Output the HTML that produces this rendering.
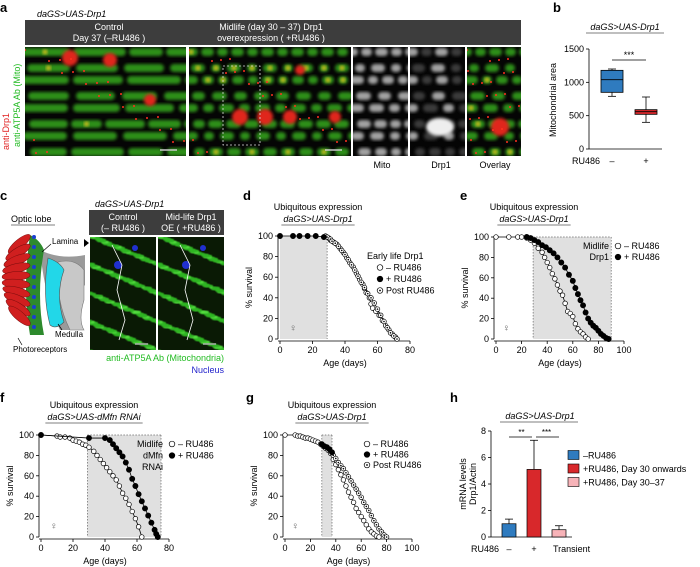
<!DOCTYPE html>
<html><head><meta charset="utf-8">
<style>
html,body{margin:0;padding:0;background:#fff;}
svg{display:block;font-family:"Liberation Sans",sans-serif;}
text{font-family:"Liberation Sans",sans-serif;}
</style></head>
<body>
<svg id="fig" width="700" height="567" viewBox="0 0 700 567" xmlns="http://www.w3.org/2000/svg">
<defs>
<filter id="bl" x="-20%" y="-20%" width="140%" height="140%"><feGaussianBlur stdDeviation="1.6"/></filter>
<filter id="bl2"><feGaussianBlur stdDeviation="0.8"/></filter>
<clipPath id="ca1"><rect x="25" y="47" width="161" height="109"/></clipPath>
<clipPath id="ca2"><rect x="189" y="47" width="162" height="109"/></clipPath>
<clipPath id="ca3"><rect x="353" y="47" width="55" height="109"/></clipPath>
<clipPath id="ca4"><rect x="410" y="47" width="55" height="109"/></clipPath>
<clipPath id="ca5"><rect x="467" y="47" width="54" height="109"/></clipPath>
<clipPath id="cc1"><rect x="90" y="237" width="66" height="113"/></clipPath>
<clipPath id="cc2"><rect x="158" y="237" width="66" height="113"/></clipPath>
</defs>

<!-- Panel a -->
<g>
<text x="0" y="12" font-size="13" font-weight="bold">a</text>
<text x="37" y="17" font-size="9" font-style="italic">daGS&gt;UAS-Drp1</text>
<rect x="25" y="20" width="496" height="25" fill="#3d3d3d"/>
<text x="109" y="30" font-size="9" fill="#fff" text-anchor="middle">Control</text>
<text x="109" y="41" font-size="9" fill="#fff" text-anchor="middle">Day 37 (–RU486 )</text>
<text x="271" y="30" font-size="9" fill="#fff" text-anchor="middle">Midlife (day 30 – 37) Drp1</text>
<text x="271" y="41" font-size="9" fill="#fff" text-anchor="middle">overexpression ( +RU486 )</text>
<g id="micro"></g>
<text x="382" y="168" font-size="9" text-anchor="middle">Mito</text>
<text x="441" y="168" font-size="9" text-anchor="middle">Drp1</text>
<text x="495" y="168" font-size="9" text-anchor="middle">Overlay</text>
<text transform="translate(9,150) rotate(-90)" font-size="9" fill="#e02020">anti-Drp1</text>
<text transform="translate(20,147) rotate(-90)" font-size="9" fill="#22bb22">anti-ATP5A Ab (Mito)</text>
</g>

<!-- Panel b -->
<g id="pb">
<text x="553" y="12" font-size="13" font-weight="bold">b</text>
<text x="625" y="30" font-size="9" font-style="italic" text-anchor="middle">daGS&gt;UAS-Drp1</text>
<line x1="586" y1="33" x2="664" y2="33" stroke="#999" stroke-width="1.2"/>
<text transform="translate(556,100) rotate(-90)" font-size="9" text-anchor="middle">Mitochondrial area</text>
</g>

<!-- Panel c -->
<g>
<text x="0" y="200" font-size="13" font-weight="bold">c</text>
<text x="95" y="207" font-size="9" font-style="italic">daGS&gt;UAS-Drp1</text>
<text x="11" y="222" font-size="9">Optic lobe</text>
<line x1="11" y1="225" x2="55" y2="225" stroke="#999" stroke-width="1.2"/>
<g>
<path d="M40,250 Q60,260 85,255 L85,285 Q70,300 80,330 L60,330 Q45,300 40,250Z" fill="#9a9a9a"/>
<path d="M58,262 Q75,258 84,270 L84,300 Q78,320 84,330 L70,330 Q55,300 58,262Z" fill="#c8c8c8" stroke="#777" stroke-width="0.6"/>
<path d="M48,258 Q60,262 64,270 Q55,295 64,322 Q56,330 50,325 Q42,295 48,258Z" fill="#22d7e8" stroke="#555" stroke-width="0.6"/>
<path d="M30,235 Q40,240 44,250 Q36,295 44,335 L30,335 Q22,290 30,235Z" fill="#2d8a2d"/>
</g>
<g id="petals"></g>
<text x="52" y="244" font-size="8">Lamina</text>
<line x1="51" y1="244" x2="42" y2="252" stroke="#000" stroke-width="0.7"/>
<path d="M84,239 L89,243 L84,247Z" fill="#000"/>
<text x="55" y="337" font-size="8">Medulla</text>
<line x1="62" y1="330" x2="58" y2="324" stroke="#000" stroke-width="0.7"/>
<text x="13" y="352" font-size="8">Photoreceptors</text>
<line x1="22" y1="345" x2="18" y2="338" stroke="#000" stroke-width="0.7"/>
<rect x="89" y="210" width="135" height="25" fill="#3d3d3d"/>
<text x="123" y="220" font-size="9" fill="#fff" text-anchor="middle">Control</text>
<text x="123" y="231" font-size="9" fill="#fff" text-anchor="middle">(– RU486 )</text>
<text x="191" y="220" font-size="9" fill="#fff" text-anchor="middle">Mid-life Drp1</text>
<text x="191" y="231" font-size="9" fill="#fff" text-anchor="middle">OE ( +RU486 )</text>
<g id="microc"></g>
<text x="224" y="361" font-size="9" fill="#22bb22" text-anchor="end">anti-ATP5A Ab (Mitochondria)</text>
<text x="224" y="373" font-size="9" fill="#2222cc" text-anchor="end">Nucleus</text>
</g>

<g id="pd"></g>
<g id="pe"></g>
<g id="pf"></g>
<g id="pg"></g>
<g id="ph"></g>
</svg>

<script>
// ===== Data =====
// panel b box plot (min, q1, median, q3, max)
const boxGroups = ['–', '+'];
const boxMin = [790, 400];
const boxQ1 = [850, 520];
const boxMed = [1040, 560];
const boxQ3 = [1180, 590];
const boxMax = [1200, 780];
const boxTicks = [0, 500, 1000, 1500];

// panel d
const dCtrlAge = [28,30,31,33,35,37,39,41,43,45,47,49,51,52,53,55,56,57,59,61,63,65,67,69,71,72];
const dCtrlSurv = [100,98,96,94,92,88,84,79,74,70,64,58,53,49,45,40,34,30,27,23,18,13,9,5,2,0];
const dRuAge = [0,8,12,17,22,27];
const dRuSurv = [100,100,100,100,100,99];
const dPostAge = [29,31,32,34,36,38,40,42,44,46,48,50,52,54,56,58,60,62,64,66,68,70,72];
const dPostSurv = [99,97,95,93,90,86,82,77,72,67,61,55,50,44,40,35,29,23,17,11,6,3,0];

// panel e
const eCtrlAge = [0,10,17,20,24,27,30,33,36,38,40,42,44,46,48,50,52,54,56,58,60,62,64,66,68,70,72];
const eCtrlSurv = [100,100,100,100,99,97,94,89,85,80,75,70,64,59,53,47,43,35,27,25,22,15,10,7,5,2,0];
const eRuAge = [24,27,30,33,36,39,42,45,48,51,54,57,60,62,64,66,68,70,72,74,76,78,80,82,84,86,88];
const eRuSurv = [100,99,97,95,92,90,87,84,80,75,70,63,57,50,44,38,33,26,20,16,13,11,8,5,3,1,0];

// panel f
const fCtrlAge = [0,10,12,15,18,20,22,24,26,28,30,33,35,37,39,41,43,45,47,49,51,53,55,57,59,61,63];
const fCtrlSurv = [100,99,98,98,97,95,94,93,91,90,88,84,80,76,72,68,64,60,56,50,43,38,32,25,18,10,0];
const fRuAge = [0,30,40,43,45,47,49,51,53,55,57,59,61,63,65,67,69,71,72,73];
const fRuSurv = [100,97,97,95,91,87,83,79,73,66,57,50,42,35,28,21,14,7,3,0];

// panel g
const gCtrlAge = [0,8,10,12,14,16,18,20,22,24,26,28,30,32,34,36,38,40,42,44,46,48,50,52,54,56,58,60,62,64,66,68,70,72,74];
const gCtrlSurv = [100,100,99,99,98,97,97,96,95,94,93,91,89,87,85,82,76,71,66,61,56,50,44,39,34,28,24,20,16,12,8,5,3,1,0];
const gRuAge = [29,31,33,35,37];
const gRuSurv = [91,89,88,86,83];
const gPostAge = [38,40,42,44,46,48,50,52,54,56,58,60,62,64,66,68,70,72,74,76,78,80];
const gPostSurv = [80,77,73,70,67,63,59,55,51,47,43,39,34,30,26,21,16,12,8,5,2,0];

// panel h
const hGroups = ['–', '+', 'Transient'];
const hMeans = [1.0, 5.1, 0.55];
const hErr = [1.35, 7.3, 0.85];
const hColors = ['#2f7bbf', '#d8282b', '#f7b3b8'];
const hTicks = [0, 2, 4, 6, 8];
const hLegend = ['–RU486', '+RU486, Day 30 onwards', '+RU486, Day 30–37'];

// ===== helpers =====
const NS = 'http://www.w3.org/2000/svg';
function mk(parent, tag, attrs, txt) {
  const e = document.createElementNS(NS, tag);
  for (const k in attrs) e.setAttribute(k, attrs[k]);
  if (txt !== undefined) e.textContent = txt;
  parent.appendChild(e);
  return e;
}

// ===== micrographs (decorative) =====
(function () {
  const g = document.getElementById('micro');
  const panels = [[25,161,'ca1'],[189,162,'ca2'],[353,55,'ca3'],[410,55,'ca4'],[467,54,'ca5']];
  panels.forEach((p, i) => {
    const r = mk(g, 'rect', {x: p[0], y: 47, width: p[1], height: 109, fill: '#050505'});
    
    
    const cg = mk(g, 'g', {'clip-path': 'url(#' + p[2] + ')'});
    const gray = (i === 2 || i === 3);
    for (let row = 0; row < 8; row++) {
      const y = 52 + row * 14 + (row % 2) * 2;
      let x = p[0] - 5 + (row * 7) % 13;
      while (x < p[0] + p[1]) {
        const w = i === 0 ? 30 + (row * 11 + x) % 25 : 10 + (row * 5 + x) % 6;
        const col = gray ? (i === 3 && (row + x) % 3 ? '#444' : '#bdbdbd') : '#36a81e';
        mk(cg, 'rect', {x: x, y: y - 4, width: w, height: 8, rx: 4, fill: col, filter: 'url(#bl)', opacity: 0.85});
        if (!gray && (x + row) % 4 === 0) mk(cg, 'circle', {cx: x + w / 2, cy: y, r: 2.5, fill: '#d8c020', filter: 'url(#bl)'});
        x += w + 3 + (row * 3) % 5;
      }
    }
    if (!gray) {
      const reds = i === 0 ? [[70,58,8],[110,60,7],[150,100,6]] : i === 1 ? [[240,117,8],[265,117,8],[290,117,7],[335,117,6],[300,70,5]] : [[500,127,9]];
      reds.forEach(c => mk(cg, 'circle', {cx: c[0], cy: c[1], r: c[2], fill: '#e0261c', filter: 'url(#bl)'}));
      for (let k = 0; k < 25; k++) mk(cg, 'circle', {cx: p[0] + (k * 37) % p[1], cy: 50 + (k * 23) % 104, r: 1, fill: '#ff3020'});
    }
    if (i === 3) mk(cg, 'ellipse', {cx: 440, cy: 127, rx: 14, ry: 9, fill: '#eee', filter: 'url(#bl)'});
  });
  mk(g, 'rect', {x: 223, y: 66, width: 37, height: 79, fill: 'none', stroke: '#ddd', 'stroke-dasharray': '2,2', 'stroke-width': 0.8});
  mk(g, 'line', {x1: 160, y1: 150, x2: 177, y2: 150, stroke: '#ccc', 'stroke-width': 1.5});
  mk(g, 'line', {x1: 325, y1: 150, x2: 342, y2: 150, stroke: '#ccc', 'stroke-width': 1.5});

  const gc = document.getElementById('microc');
  [[90,'cc1'],[158,'cc2']].forEach((p, i) => {
    const r = mk(gc, 'rect', {x: p[0], y: 237, width: 66, height: 113, fill: '#0a1a05'});
    
    
    const cg = mk(gc, 'g', {'clip-path': 'url(#' + p[1] + ')'});
    for (let k = 0; k < 220; k++) {
      mk(cg, 'ellipse', {cx: p[0] + (k * 29) % 68, cy: 237 + (k * 41) % 115, rx: 2 + k % 3, ry: 1.4, fill: k % 5 ? '#2fb524' : '#55e040', filter: 'url(#bl2)'});
    }
    mk(cg, 'circle', {cx: p[0] + 28, cy: 265, r: 4, fill: '#2030d0'});
    mk(cg, 'circle', {cx: p[0] + 45, cy: 248, r: 3, fill: '#2030d0'});
    mk(cg, 'path', {d: 'M' + (p[0] + 22) + ',245 l10,20 l-5,25 l8,30 l-6,20', stroke: '#fff', fill: 'none', 'stroke-width': 0.8});
    mk(cg, 'line', {x1: p[0] + 45, y1: 344, x2: p[0] + 58, y2: 344, stroke: '#aaa', 'stroke-width': 1.5});
  });

  const pg = document.getElementById('petals');
  for (let k = 0; k < 10; k++) {
    const y = 235 + k * 10;
    const a = -40 + k * 9;
    mk(pg, 'ellipse', {cx: 16, cy: y, rx: 14, ry: 4.5, fill: '#d01f1f', stroke: '#7a0d0d', 'stroke-width': 0.5, transform: 'rotate(' + a + ' 30 ' + y + ')'});
    mk(pg, 'circle', {cx: 34, cy: y + 2, r: 2, fill: '#1a3fd0'});
  }
})();

// ===== panel b =====
(function () {
  const g = document.getElementById('pb');
  const ax = 589;
  const yS = v => 149 - v / 1500 * 100;
  mk(g, 'line', {x1: ax, y1: 49, x2: ax, y2: 149, stroke: '#000', 'stroke-width': 0.8});
  mk(g, 'line', {x1: ax, y1: 149, x2: 662, y2: 149, stroke: '#000', 'stroke-width': 0.8});
  boxTicks.forEach(t => {
    mk(g, 'line', {x1: ax - 3, y1: yS(t), x2: ax, y2: yS(t), stroke: '#000', 'stroke-width': 0.8});
    const tx = mk(g, 'text', {x: ax - 5, y: yS(t) + 3, 'font-size': 9, 'text-anchor': 'end'}, t);
    
    
  });
  const cols = ['#2f7bbf', '#d8282b'];
  boxGroups.forEach((gr, i) => {
    const cx = 612 + i * 34;
    mk(g, 'line', {x1: cx, y1: yS(boxMax[i]), x2: cx, y2: yS(boxMin[i]), stroke: '#000', 'stroke-width': 0.8});
    mk(g, 'line', {x1: cx - 4, y1: yS(boxMax[i]), x2: cx + 4, y2: yS(boxMax[i]), stroke: '#000', 'stroke-width': 0.8});
    mk(g, 'line', {x1: cx - 4, y1: yS(boxMin[i]), x2: cx + 4, y2: yS(boxMin[i]), stroke: '#000', 'stroke-width': 0.8});
    const b = mk(g, 'rect', {x: cx - 11, y: yS(boxQ3[i]), width: 22, height: yS(boxQ1[i]) - yS(boxQ3[i]), fill: cols[i], stroke: '#000', 'stroke-width': 0.8});
    
    
    mk(g, 'line', {x1: cx - 11, y1: yS(boxMed[i]), x2: cx + 11, y2: yS(boxMed[i]), stroke: '#000', 'stroke-width': 0.8});
    mk(g, 'text', {x: cx, y: 164, 'font-size': 9, 'text-anchor': 'middle'}, gr);
  });
  const rl = mk(g, 'text', {x: 572, y: 164, 'font-size': 9}, 'RU486');
  
  
  mk(g, 'line', {x1: 612, y1: 60, x2: 646, y2: 60, stroke: '#000', 'stroke-width': 0.8});
  mk(g, 'text', {x: 629, y: 58, 'font-size': 9, 'text-anchor': 'middle'}, '***');
})();

// ===== survival charts =====
function survival(cfg) {
  const g = document.getElementById(cfg.id);
  const xS = a => cfg.x0 + a / cfg.xmax * (cfg.x1 - cfg.x0);
  const yS = v => cfg.y0 - v / 100 * (cfg.y0 - cfg.y1);
  const lab = mk(g, 'text', {x: cfg.lx, y: cfg.ly, 'font-size': 13, 'font-weight': 'bold'}, cfg.letter);
  
  
  const t1 = mk(g, 'text', {x: cfg.tx, y: cfg.ty, 'font-size': 9, 'text-anchor': 'middle'}, 'Ubiquitous expression');
  
  
  const t2 = mk(g, 'text', {x: cfg.tx, y: cfg.ty + 12, 'font-size': 9, 'font-style': 'italic', 'text-anchor': 'middle'}, cfg.geno);
  
  
  const w = t2.getComputedTextLength ? t2.getComputedTextLength() : 70;
  mk(g, 'line', {x1: cfg.tx - w / 2 - 2, y1: cfg.ty + 15, x2: cfg.tx + w / 2 + 2, y2: cfg.ty + 15, stroke: '#999', 'stroke-width': 1.2});
  const sx = xS(cfg.shade[0]), ex = xS(cfg.shade[1]);
  const sh = mk(g, 'rect', {x: sx, y: yS(100), width: ex - sx, height: yS(0) - yS(100), fill: '#e0e0e0'});
  
  
  const dash = {stroke: '#666', 'stroke-width': 0.7, 'stroke-dasharray': '1.5,1.5', fill: 'none'};
  mk(g, 'line', Object.assign({x1: ex, y1: yS(100), x2: ex, y2: yS(0)}, dash));
  if (cfg.box) {
    mk(g, 'line', Object.assign({x1: sx, y1: yS(100), x2: sx, y2: yS(0)}, dash));
    mk(g, 'line', Object.assign({x1: sx, y1: yS(100), x2: ex, y2: yS(100)}, dash));
  }
  mk(g, 'line', {x1: cfg.x0 - 2, y1: yS(100), x2: cfg.x0 - 2, y2: yS(0), stroke: '#000', 'stroke-width': 0.8});
  mk(g, 'line', {x1: cfg.x0 - 2, y1: yS(0) + 2, x2: cfg.x1, y2: yS(0) + 2, stroke: '#000', 'stroke-width': 0.8});
  [0, 20, 40, 60, 80, 100].forEach(t => {
    mk(g, 'line', {x1: cfg.x0 - 5, y1: yS(t), x2: cfg.x0 - 2, y2: yS(t), stroke: '#000', 'stroke-width': 0.8});
    const tt = mk(g, 'text', {x: cfg.x0 - 7, y: yS(t) + 3, 'font-size': 9, 'text-anchor': 'end'}, t);
    
    
  });
  for (let t = 0; t <= cfg.xmax; t += 20) {
    mk(g, 'line', {x1: xS(t), y1: yS(0) + 2, x2: xS(t), y2: yS(0) + 5, stroke: '#000', 'stroke-width': 0.8});
    const tt = mk(g, 'text', {x: xS(t), y: yS(0) + 14, 'font-size': 9, 'text-anchor': 'middle'}, t);
    
    
  }
  const xt = mk(g, 'text', {x: (cfg.x0 + cfg.x1) / 2, y: yS(0) + 27, 'font-size': 9, 'text-anchor': 'middle'}, 'Age (days)');
  
  
  const yt = mk(g, 'text', {transform: 'translate(' + (cfg.x0 - 28) + ',' + ((yS(0) + yS(100)) / 2) + ') rotate(-90)', 'font-size': 9, 'text-anchor': 'middle'}, '% survival');
  
  
  mk(g, 'text', {x: xS(8), y: yS(8), 'font-size': 10, fill: '#666', 'text-anchor': 'middle'}, '♀');
  cfg.series.forEach(s => {
    const pts = s.age.map((a, i) => xS(a) + ',' + yS(s.surv[i])).join(' ');
    const pl = mk(g, 'polyline', {points: pts, fill: 'none', stroke: '#000', 'stroke-width': 0.8});
    
    
    s.age.forEach((a, i) => {
      const c = mk(g, 'circle', {cx: xS(a), cy: yS(s.surv[i]), r: s.type === 'fill' ? 2.6 : 2.3, fill: s.type === 'fill' ? '#000' : '#fff', stroke: '#000', 'stroke-width': 0.7});
      
      
      if (s.type === 'post') mk(g, 'circle', {cx: xS(a), cy: yS(s.surv[i]), r: 0.8, fill: '#000'});
    });
  });
  cfg.legend.forEach((l, i) => {
    const y = cfg.legY + i * cfg.legDy;
    if (l.head !== undefined) {
      mk(g, 'text', {x: l.hx, y: y + 3, 'font-size': 9, 'text-anchor': l.anchor || 'start'}, l.head);
    }
    if (l.type) {
      const c = mk(g, 'circle', {cx: cfg.legX, cy: y, r: 2.8, fill: l.type === 'fill' ? '#000' : '#fff', stroke: '#000', 'stroke-width': 0.7});
      
      
      if (l.type === 'post') mk(g, 'circle', {cx: cfg.legX, cy: y, r: 0.9, fill: '#000'});
      const t = mk(g, 'text', {x: cfg.legX + 6, y: y + 3, 'font-size': 9}, l.text);
      
      
    }
  });
}

survival({id: 'pd', letter: 'd', lx: 243, ly: 200, tx: 318, ty: 210, geno: 'daGS>UAS-Drp1',
  x0: 280, x1: 410, xmax: 80, y0: 339, y1: 236, shade: [0, 29], box: false,
  series: [{name: 'ctrl', age: dCtrlAge, surv: dCtrlSurv, type: 'open'},
           {name: 'post', age: dPostAge, surv: dPostSurv, type: 'post'},
           {name: 'ru', age: dRuAge, surv: dRuSurv, type: 'fill'}],
  legX: 380, legY: 256, legDy: 11.5,
  legend: [{head: 'Early life Drp1', hx: 367}, {type: 'open', text: '– RU486'}, {type: 'fill', text: '+ RU486'}, {type: 'post', text: 'Post RU486'}]
});
survival({id: 'pe', letter: 'e', lx: 460, ly: 200, tx: 534, ty: 210, geno: 'daGS>UAS-Drp1',
  x0: 496, x1: 624, xmax: 100, y0: 339, y1: 237, shade: [29, 90], box: true,
  series: [{name: 'ctrl', age: eCtrlAge, surv: eCtrlSurv, type: 'open'},
           {name: 'ru', age: eRuAge, surv: eRuSurv, type: 'fill'}],
  legX: 618, legY: 246, legDy: 11,
  legend: [{head: 'Midlife', hx: 609, anchor: 'end', type: 'open', text: '– RU486'}, {head: 'Drp1', hx: 609, anchor: 'end', type: 'fill', text: '+ RU486'}]
});
survival({id: 'pf', letter: 'f', lx: 0, ly: 402, tx: 94, ty: 408, geno: 'daGS>UAS-dMfn RNAi',
  x0: 41, x1: 169, xmax: 80, y0: 537, y1: 435, shade: [29, 75], box: true,
  series: [{name: 'ctrl', age: fCtrlAge, surv: fCtrlSurv, type: 'open'},
           {name: 'ru', age: fRuAge, surv: fRuSurv, type: 'fill'}],
  legX: 172, legY: 444, legDy: 11.5,
  legend: [{head: 'Midlife', hx: 163, anchor: 'end', type: 'open', text: '– RU486'}, {head: 'dMfn', hx: 163, anchor: 'end', type: 'fill', text: '+ RU486'}, {head: 'RNAi', hx: 163, anchor: 'end'}]
});
survival({id: 'pg', letter: 'g', lx: 246, ly: 402, tx: 332, ty: 408, geno: 'daGS>UAS-Drp1',
  x0: 285, x1: 412, xmax: 100, y0: 537, y1: 435, shade: [29, 37], box: true,
  series: [{name: 'ctrl', age: gCtrlAge, surv: gCtrlSurv, type: 'open'},
           {name: 'post', age: gPostAge, surv: gPostSurv, type: 'post'},
           {name: 'ru', age: gRuAge, surv: gRuSurv, type: 'fill'}],
  legX: 367, legY: 444, legDy: 10.5,
  legend: [{type: 'open', text: '– RU486'}, {type: 'fill', text: '+ RU486'}, {type: 'post', text: 'Post RU486'}]
});

// ===== panel h =====
(function () {
  const g = document.getElementById('ph');
  const yS = v => 537 - v / 8 * 106;
  const lab = mk(g, 'text', {x: 450, y: 402, 'font-size': 13, 'font-weight': 'bold'}, 'h');
  
  
  const t = mk(g, 'text', {x: 540, y: 419, 'font-size': 9, 'font-style': 'italic', 'text-anchor': 'middle'}, 'daGS>UAS-Drp1');
  
  
  mk(g, 'line', {x1: 500, y1: 422, x2: 578, y2: 422, stroke: '#999', 'stroke-width': 1.2});
  mk(g, 'line', {x1: 491, y1: yS(8), x2: 491, y2: yS(0), stroke: '#000', 'stroke-width': 0.8});
  mk(g, 'line', {x1: 491, y1: yS(0), x2: 572, y2: yS(0), stroke: '#000', 'stroke-width': 0.8});
  hTicks.forEach(v => {
    mk(g, 'line', {x1: 488, y1: yS(v), x2: 491, y2: yS(v), stroke: '#000', 'stroke-width': 0.8});
    const tt = mk(g, 'text', {x: 486, y: yS(v) + 3, 'font-size': 9, 'text-anchor': 'end'}, v);
    
    
  });
  const yt = mk(g, 'text', {transform: 'translate(466,484) rotate(-90)', 'font-size': 9, 'text-anchor': 'middle'}, 'mRNA levels');
  
  
  mk(g, 'text', {transform: 'translate(476,484) rotate(-90)', 'font-size': 9, 'text-anchor': 'middle'}, 'Drp1/Actin');
  const cxs = [];
  hGroups.forEach((gr, i) => {
    const cx = 509 + i * 25;
    cxs.push(cx);
    mk(g, 'line', {x1: cx, y1: yS(hMeans[i]), x2: cx, y2: yS(hErr[i]), stroke: '#000', 'stroke-width': 0.8});
    mk(g, 'line', {x1: cx - 4, y1: yS(hErr[i]), x2: cx + 4, y2: yS(hErr[i]), stroke: '#000', 'stroke-width': 0.8});
    const b = mk(g, 'rect', {x: cx - 7, y: yS(hMeans[i]), width: 14, height: yS(0) - yS(hMeans[i]), fill: hColors[i], stroke: '#000', 'stroke-width': 0.7});
    
    
    const xl = mk(g, 'text', {x: gr === 'Transient' ? cx - 6 : cx, y: 552, 'font-size': 9, 'text-anchor': gr === 'Transient' ? 'start' : 'middle'}, gr);
    
    
  });
  mk(g, 'text', {x: 471, y: 552, 'font-size': 9}, 'RU486');
  mk(g, 'line', {x1: cxs[0], y1: 437, x2: cxs[1] - 2, y2: 437, stroke: '#000', 'stroke-width': 0.8});
  mk(g, 'line', {x1: cxs[1] + 2, y1: 437, x2: cxs[2], y2: 437, stroke: '#000', 'stroke-width': 0.8});
  mk(g, 'text', {x: (cxs[0] + cxs[1]) / 2, y: 435, 'font-size': 8, 'text-anchor': 'middle'}, '**');
  mk(g, 'text', {x: (cxs[1] + cxs[2]) / 2, y: 435, 'font-size': 8, 'text-anchor': 'middle'}, '***');
  hLegend.forEach((l, i) => {
    const y = 455 + i * 13.5;
    const s = mk(g, 'rect', {x: 568, y: y - 4.5, width: 11, height: 9, fill: hColors[i], stroke: '#000', 'stroke-width': 0.6});
    
    
    const tx = mk(g, 'text', {x: 583, y: y + 3.5, 'font-size': 9}, l);
    
    
  });
})();
</script>
</body></html>
